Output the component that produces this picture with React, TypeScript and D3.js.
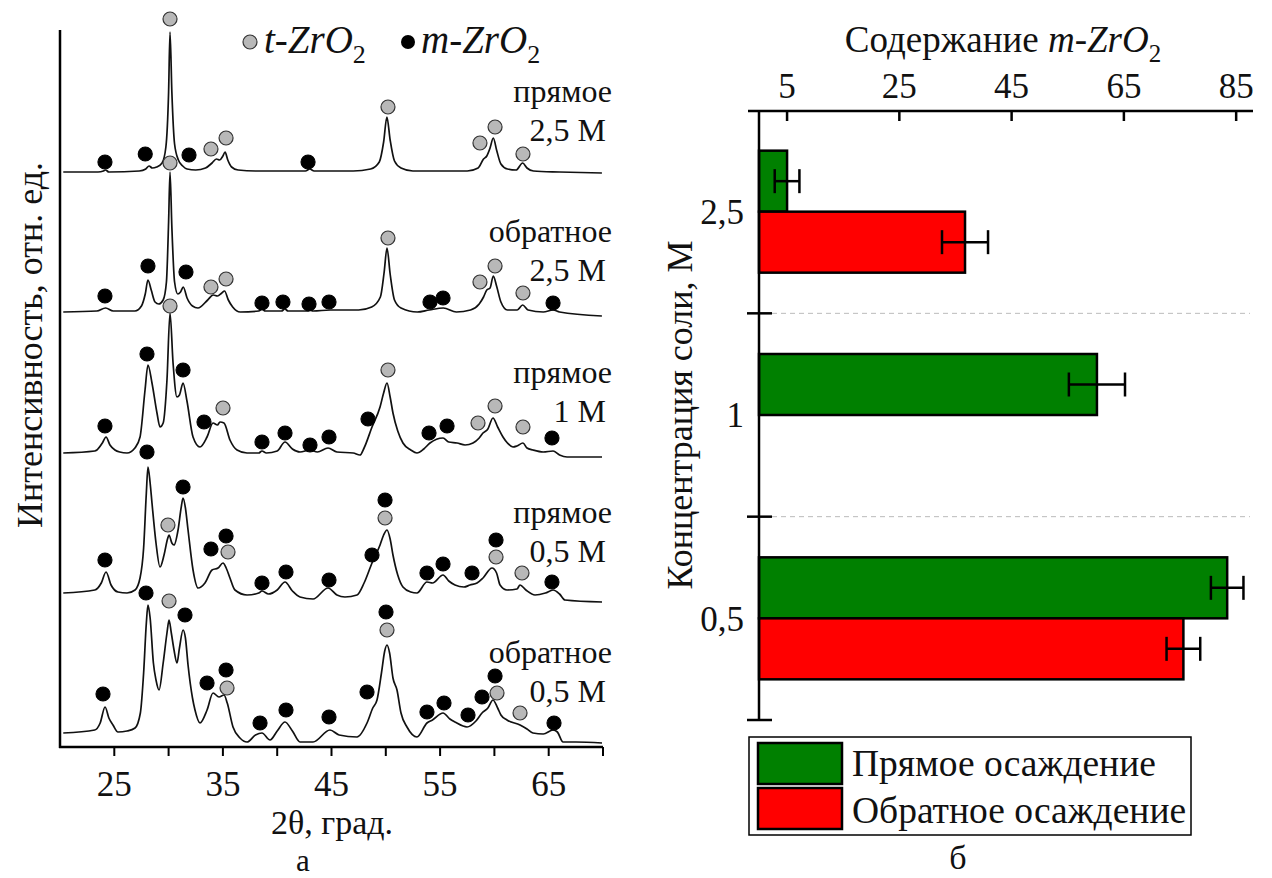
import React from "react";
import * as d3 from "d3";

const FONT = "'Liberation Serif', 'Times New Roman', Tinos, 'DejaVu Serif', serif";
const tf = (size: number, italic = false): React.CSSProperties => ({ fontFamily: FONT, fontSize: size, fontStyle: italic ? "italic" : "normal" });

// ---------- Left panel (XRD patterns) ----------
const xrdTickLabels = [25, 35, 45, 55, 65];
const xrdTicks = [25, 30, 35, 40, 45, 50, 55, 60, 65, 70];

const traceOffsets = [575, 435, 294, 154, 14];
const traceLabelTop = ["прямое", "обратное", "прямое", "прямое", "обратное"];
const traceLabelBottom = ["2,5 М", "2,5 М", "1 М", "0,5 М", "0,5 М"];

const trace1: [number, number][] = [[20.3,0],[23.5,0],[24.0,1],[24.2,2],[24.5,0],[27.3,1],[27.9,3],[28.2,6],[28.5,4],[28.9,5],[29.4,9],[29.75,25],[30.0,80],[30.13,140],[30.3,80],[30.55,28],[30.9,12],[31.3,6],[31.7,3],[32.5,2],[33.4,4],[34.0,9],[34.4,13],[34.7,12],[35.0,16],[35.2,20],[35.45,12],[35.8,5],[36.4,2],[38,1],[42.6,1],[43.0,3],[43.4,1],[47.0,1],[48.6,3],[49.4,10],[49.8,30],[50.1,55],[50.4,32],[50.8,11],[51.4,4],[52.5,1],[57.5,1],[58.5,4],[59.0,13],[59.3,16],[59.6,24],[59.9,34],[60.2,22],[60.6,8],[61.2,3],[62.0,2],[62.6,9],[63.0,4],[63.6,1],[66,0],[69.9,-1]];
const trace2: [number, number][] = [[20.3,0],[23.4,1],[24.2,4],[24.9,1],[26.9,1],[27.5,6],[27.85,18],[28.1,32],[28.4,22],[28.75,10],[29.1,8],[29.5,12],[29.8,30],[30.0,90],[30.13,140],[30.3,85],[30.55,30],[30.85,18],[31.1,20],[31.35,25],[31.7,14],[32.2,6],[32.7,4],[33.6,12],[34.1,17],[34.5,16],[34.9,19],[35.15,21],[35.5,12],[35.9,5],[36.6,0],[38.3,1],[38.6,3],[38.9,1],[40.4,1],[40.7,3],[41.0,1],[42.8,1],[43.0,2],[43.3,1],[44.9,2],[47.5,2],[48.7,5],[49.5,15],[49.85,40],[50.11,64],[50.4,38],[50.8,12],[51.4,4],[52.9,0],[54.0,2],[55.3,4],[56.5,0],[57.8,2],[58.6,8],[59.0,15],[59.3,22],[59.6,24],[59.9,36],[60.2,26],[60.6,10],[61.2,2],[62.1,2],[62.6,7],[63.1,2],[64.5,0],[65.4,2],[66.0,0],[69.9,-4]];
const trace3: [number, number][] = [[20.3,0],[23.2,2],[23.4,3],[23.9,10],[24.24,16],[24.6,8],[25.06,3],[25.5,1],[26.17,0],[26.9,5],[27.37,16],[27.83,63],[28.1,88],[28.47,70],[28.93,40],[29.21,26],[29.5,30],[29.85,73],[30.13,140],[30.41,90],[30.77,56],[31.0,58],[31.33,70],[31.69,52],[32.25,16],[32.89,6],[33.54,16],[34.09,30],[34.5,28],[34.73,31],[35.1,30],[35.65,13],[36.3,3],[37.22,0],[38.3,0],[38.6,2],[39.0,0],[40.0,2],[40.72,11],[41.4,4],[42.1,1],[43.02,3],[43.7,1],[44.68,5],[45.5,1],[47.0,0],[47.62,-2],[48.0,5],[48.73,26],[49.47,46],[49.8,60],[50.11,70],[50.4,56],[50.66,40],[51.1,22],[51.58,10],[52.3,3],[52.87,0],[53.5,4],[54.07,10],[55.27,15],[55.8,11],[56.56,10],[57.3,8],[58.03,10],[58.6,15],[58.95,20],[59.4,24],[59.87,35],[60.3,26],[60.79,16],[61.2,10],[61.71,6],[62.08,7],[62.63,10],[63.0,5],[63.55,3],[64.5,1],[65.4,2],[66.0,-2],[66.69,-4],[69.91,-4]];
const trace4: [number, number][] = [[20.3,0],[23.2,3],[23.8,10],[24.24,21],[24.7,8],[25.34,1],[26.17,0],[26.91,3],[27.37,15],[27.7,45],[27.95,100],[28.1,126],[28.3,110],[28.47,90],[28.84,50],[29.21,26],[29.58,38],[29.9,54],[30.04,58],[30.3,50],[30.5,48],[30.87,63],[31.15,85],[31.33,95],[31.55,85],[31.79,63],[32.25,23],[32.71,5],[33.35,10],[34.0,23],[34.55,25],[35.01,30],[35.3,25],[35.65,15],[36.11,3],[37.22,-2],[38.3,0],[38.6,2],[39.2,-1],[40.0,3],[40.72,11],[41.4,2],[42.1,-4],[43.3,-6],[44.68,5],[45.5,-2],[46.24,-4],[47.35,-2],[48.0,10],[48.73,30],[49.47,48],[49.8,58],[50.11,63],[50.4,54],[50.66,38],[51.1,18],[51.58,6],[52.3,1],[52.87,0],[53.79,11],[54.3,10],[55.27,18],[55.8,12],[56.37,8],[57.2,6],[57.75,8],[58.4,10],[58.95,15],[59.78,25],[60.2,20],[60.52,8],[61.16,3],[62.08,4],[62.36,8],[62.9,3],[63.74,-2],[64.7,0],[65.4,3],[66.0,-1],[66.5,-7],[69.91,-9]];
const trace5: [number, number][] = [[20.3,0],[23.2,3],[23.7,10],[24.15,26],[24.5,15],[24.88,8],[25.34,1],[26.17,2],[26.91,5],[27.4,20],[27.7,60],[27.95,110],[28.1,128],[28.3,115],[28.6,70],[28.84,53],[29.12,43],[29.5,70],[29.85,100],[30.04,113],[30.25,100],[30.5,83],[30.77,70],[31.0,85],[31.33,103],[31.55,95],[31.79,68],[32.2,35],[32.43,23],[32.89,10],[33.54,23],[34.09,40],[34.64,36],[35.1,38],[35.4,30],[35.93,6],[36.57,-5],[37.22,-9],[38.0,-2],[38.6,0],[39.34,-7],[40.0,2],[40.72,11],[41.4,2],[42.1,-9],[43.3,-9],[44.86,3],[45.7,-2],[47.35,-4],[48.27,10],[48.8,25],[49.19,33],[49.6,60],[49.9,82],[50.11,88],[50.35,80],[50.66,55],[51.03,43],[51.4,20],[51.95,6],[52.87,-4],[53.79,10],[54.3,13],[55.27,20],[55.9,14],[56.37,11],[57.48,6],[58.3,12],[58.86,20],[59.4,25],[59.87,33],[60.3,25],[60.6,18],[61.16,13],[62.36,8],[63.0,4],[63.55,0],[64.5,-1],[65.4,3],[65.8,1],[66.32,-9],[67.5,-9],[69.91,-10]];
const traces = [trace1, trace2, trace3, trace4, trace5];

// markers: [2theta, intensity above baseline, phase] ; "t" = t-ZrO2 (grey), "m" = m-ZrO2 (black)
const markers1: [number, number, string][] = [[24.14,10,"m"],[27.85,18,"m"],[30.13,153,"t"],[31.88,17,"m"],[33.9,23,"t"],[35.29,34,"t"],[42.84,10,"m"],[50.2,65,"t"],[58.67,29,"t"],[60.06,45,"t"],[62.63,18,"t"]];
const markers2: [number, number, string][] = [[24.14,16,"m"],[28.1,46,"m"],[30.13,149,"t"],[31.6,40,"m"],[33.9,25,"t"],[35.29,33,"t"],[38.6,9,"m"],[40.53,10,"m"],[42.93,8,"m"],[44.77,10,"m"],[50.2,74,"t"],[54.07,10,"m"],[55.27,14,"m"],[58.67,30,"t"],[60.06,46,"t"],[62.63,19,"t"],[65.4,9,"m"]];
const markers3: [number, number, string][] = [[24.14,27,"m"],[28.01,99,"m"],[30.13,147,"t"],[31.33,83,"m"],[33.26,31,"m"],[35.01,45,"t"],[38.6,11,"m"],[40.72,20,"m"],[43.02,8,"m"],[44.77,16,"m"],[48.36,34,"m"],[50.2,83,"t"],[53.98,20,"m"],[55.64,27,"m"],[58.49,30,"t"],[60.06,47,"t"],[62.63,26,"t"],[65.3,15,"m"]];
const markers4: [number, number, string][] = [[24.14,33,"m"],[28.01,141,"m"],[29.94,68,"t"],[31.33,106,"m"],[33.9,44,"m"],[35.29,57,"m"],[35.47,41,"t"],[38.6,10,"m"],[40.81,21,"m"],[44.77,13,"m"],[48.73,38,"m"],[49.93,93,"m"],[49.93,75,"t"],[53.79,20,"m"],[55.27,29,"m"],[57.94,20,"m"],[60.15,53,"m"],[60.15,36,"t"],[62.54,20,"t"],[65.3,11,"m"]];
const markers5: [number, number, string][] = [[23.96,39,"m"],[27.92,140,"m"],[30.04,132,"t"],[31.51,118,"m"],[33.54,50,"m"],[35.29,63,"m"],[35.38,45,"t"],[38.42,10,"m"],[40.81,23,"m"],[44.77,16,"m"],[48.27,41,"m"],[50.02,121,"m"],[50.11,103,"t"],[53.79,21,"m"],[55.36,30,"m"],[57.57,18,"m"],[58.86,36,"m"],[60.06,57,"m"],[60.24,40,"t"],[62.36,20,"t"],[65.49,10,"m"]];
const markers = [markers1, markers2, markers3, markers4, markers5];

// ---------- Right panel (bars) ----------
const concentrations = ["2,5", "1", "0,5"];
const directValues: (number | null)[] = [5.0, 60.2, 83.4];
const directErrors: (number | null)[] = [2.2, 5.0, 2.9];
const reverseValues: (number | null)[] = [36.7, null, 75.6];
const reverseErrors: (number | null)[] = [4.1, null, 3.0];
const contentTicks = [5, 25, 45, 65, 85];
const seriesNames = ["Прямое осаждение", "Обратное осаждение"];
const seriesColors = ["#008000", "#ff0000"];

export default function App() {
  // left scales
  const x = d3.scaleLinear().domain([20, 70]).range([60, 603]);
  const y = d3.scaleLinear().domain([0, 717]).range([747, 30]);
  const line = d3.line<[number, number]>().x(d => x(d[0])).y(d => y(d[1])).curve(d3.curveMonotoneX);

  // right scales
  const xb = d3.scaleLinear().domain([0, 88]).range([759, 1253]);
  const yb = d3.scaleBand<string>().domain(concentrations).range([110, 720]).paddingInner(0.4).paddingOuter(0.2);
  const ys = d3.scaleBand<string>().domain(["d", "r"]).range([0, yb.bandwidth()]);
  const step = yb.step();
  const boundaries = concentrations.map((_, i) => 110 + step * (i + 1));

  const bars: any[] = [];
  concentrations.forEach((c, i) => {
    [[directValues, directErrors, "d", 0], [reverseValues, reverseErrors, "r", 1]].forEach(([vals, errs, key, si]: any) => {
      const v = vals[i];
      if (v == null) return;
      const y0 = (yb(c) as number) + (ys(key) as number);
      const h = ys.bandwidth();
      const e = errs[i];
      const cy = y0 + h / 2;
      bars.push(
        <g key={c + key}>
          <rect x={xb(0)} y={y0} width={xb(v) - xb(0)} height={h} fill={seriesColors[si]} stroke="#000" strokeWidth={2.5} />
          <line x1={xb(v - e)} x2={xb(v + e)} y1={cy} y2={cy} stroke="#000" strokeWidth={2.5} />
          <line x1={xb(v - e)} x2={xb(v - e)} y1={cy - 12} y2={cy + 12} stroke="#000" strokeWidth={2.5} />
          <line x1={xb(v + e)} x2={xb(v + e)} y1={cy - 12} y2={cy + 12} stroke="#000" strokeWidth={2.5} />
        </g>
      );
    });
  });

  return (
    <svg width={1272} height={878} fontFamily={FONT} style={{ position: "absolute", left: 0, top: 0, background: "#fff", fontFamily: FONT }}>
      <rect x={0} y={0} width={1272} height={878} fill="#fff" />
      {/* ===== Left panel ===== */}
      {traces.map((t, i) => (
        <path key={"tr" + i} d={line(t.map(p => [p[0], p[1] + traceOffsets[i]] as [number, number])) || ""} fill="none" stroke="#111" strokeWidth={1.7} />
      ))}
      {markers.map((ms, i) => ms.map((m, j) => (
        <circle key={"m" + i + "_" + j} cx={x(m[0])} cy={y(m[1] + traceOffsets[i])} r={7}
          fill={m[2] === "t" ? "#b8b8b8" : "#000"} stroke={m[2] === "t" ? "#333" : "#000"} strokeWidth={1.2} />
      )))}
      {traceLabelTop.map((s, i) => (
        <g key={"lab" + i} fill="#111">
          <text x={612} y={y(traceOffsets[i]) - 70} textAnchor="end" style={tf(32)}>{s}</text>
          <text x={606} y={y(traceOffsets[i]) - 31} textAnchor="end" style={tf(32)}>{traceLabelBottom[i]}</text>
        </g>
      ))}
      {/* axes */}
      <line x1={60} x2={60} y1={30} y2={748} stroke="#000" strokeWidth={2.5} />
      <line x1={59} x2={603} y1={747} y2={747} stroke="#000" strokeWidth={2.5} />
      {xrdTicks.map(t => (
        <line key={"xt" + t} x1={x(t)} x2={x(t)} y1={747} y2={756} stroke="#000" strokeWidth={2} />
      ))}
      {xrdTickLabels.map(t => (
        <text key={"xl" + t} x={x(t)} y={796} textAnchor="middle" style={tf(35)} fill="#111">{t}</text>
      ))}
      <text x={332} y={834} textAnchor="middle" style={tf(34)} fill="#111">2θ, град.</text>
      <text transform="translate(42,345) rotate(-90)" textAnchor="middle" style={tf(36)} fill="#111">Интенсивность, отн. ед.</text>
      <text x={303} y={871} textAnchor="middle" style={tf(31)} fill="#111">а</text>
      {/* legend left */}
      <circle cx={250} cy={42} r={7} fill="#b8b8b8" stroke="#333" strokeWidth={1.2} />
      <text x={264} y={53} style={tf(39, true)} fill="#111">t-ZrO<tspan style={tf(26)} dy={10}>2</tspan></text>
      <circle cx={408} cy={42} r={7} fill="#000" />
      <text x={421} y={53} style={tf(39, true)} fill="#111">m-ZrO<tspan style={tf(26)} dy={10}>2</tspan></text>

      {/* ===== Right panel ===== */}
      {boundaries.slice(0, 2).map((b, i) => (
        <line key={"gl" + i} x1={772} x2={1250} y1={b} y2={b} stroke="#bbb" strokeWidth={1} strokeDasharray="5,4" />
      ))}
      {bars}
      <line x1={748} x2={1253} y1={111} y2={111} stroke="#000" strokeWidth={2.5} />
      <line x1={759} x2={759} y1={110} y2={721} stroke="#000" strokeWidth={2.5} />
      {contentTicks.map(t => (
        <line key={"ct" + t} x1={xb(t)} x2={xb(t)} y1={111} y2={121} stroke="#000" strokeWidth={2.5} />
      ))}
      {contentTicks.map(t => (
        <text key={"cl" + t} x={xb(t)} y={98} textAnchor="middle" style={tf(35)} fill="#111">{t}</text>
      ))}
      {boundaries.map((b, i) => (
        <line key={"yt" + i} x1={747} x2={772} y1={b} y2={b} stroke="#000" strokeWidth={2.5} />
      ))}
      {concentrations.map(c => (
        <text key={"yl" + c} x={744} y={(yb(c) as number) + yb.bandwidth() / 2} dy="0.35em" textAnchor="end" style={tf(35)} fill="#111">{c}</text>
      ))}
      <text x={1003} y={52} textAnchor="middle" style={tf(37)} fill="#111">Содержание <tspan style={tf(37, true)}>m-ZrO</tspan><tspan style={tf(25)} dy={10}>2</tspan></text>
      <text transform="translate(692,415) rotate(-90)" textAnchor="middle" style={tf(36)} fill="#111">Концентрация соли, М</text>
      {/* legend right */}
      <rect x={749} y={737} width={442} height={98} fill="#fff" stroke="#000" strokeWidth={1.5} />
      {seriesNames.map((s, i) => (
        <g key={"lg" + i}>
          <rect x={758} y={743 + i * 45} width={84} height={41} fill={seriesColors[i]} stroke="#000" strokeWidth={2.5} />
          <text x={852} y={776 + i * 47} style={tf(37.5)} fill="#111">{s}</text>
        </g>
      ))}
      <text x={958} y={869} textAnchor="middle" style={tf(34)} fill="#111">б</text>
    </svg>
  );
}
